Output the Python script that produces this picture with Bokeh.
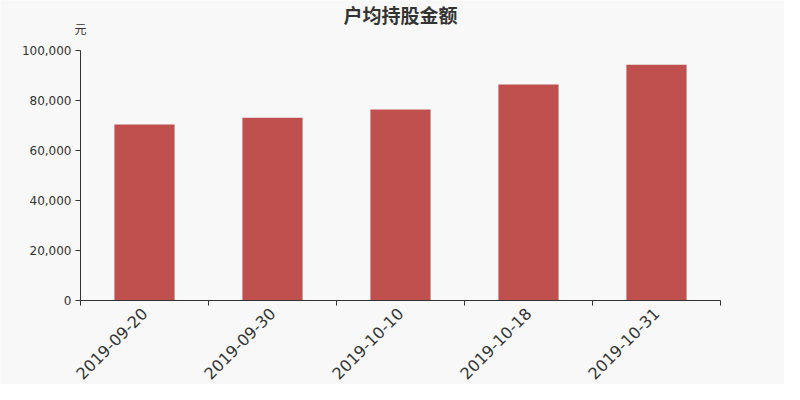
import math
from bokeh.plotting import figure
from bokeh.models import FixedTicker, NumeralTickFormatter, Label, ColumnDataSource, Range1d
from bokeh.embed import file_html
from bokeh.resources import INLINE

categories = ["2019-09-20", "2019-09-30", "2019-10-10", "2019-10-18", "2019-10-31"]
amounts = [70400, 73100, 76400, 86400, 94300]
y_ticks = [0, 20000, 40000, 60000, 80000, 100000]
title_text = "户均持股金额"
unit_text = "元"

n = len(categories)
centers = [i + 0.5 for i in range(n)]
src = ColumnDataSource(dict(x=centers, top=amounts))

# The frame fills the whole canvas; the axes are pinned at the data origin.
W, H = 784, 384
left_px, right_px, top_px, bottom_px = 80, 720, 50, 300
x_per_px = n / (right_px - left_px)
y_per_px = (y_ticks[-1] - y_ticks[0]) / (bottom_px - top_px)
x_range = Range1d(-left_px * x_per_px, (W - left_px) * x_per_px)
y_range = Range1d(y_ticks[0] - (H - bottom_px) * y_per_px, y_ticks[-1] + top_px * y_per_px)

p = figure(width=W, height=H, output_backend="svg", toolbar_location=None,
           x_range=x_range, y_range=y_range,
           min_border_left=0, min_border_right=0, min_border_top=0, min_border_bottom=0)
p.background_fill_color = "#f8f8f8"
p.border_fill_color = "#f8f8f8"
p.outline_line_color = None
p.grid.visible = False

p.vbar(x="x", top="top", width=0.47, bottom=0, source=src, fill_color="#c0504d", line_color=None)

# x axis
xa = p.xaxis[0]
xa.fixed_location = y_ticks[0]
xa.bounds = (0, n)
xa.ticker = FixedTicker(ticks=centers, minor_ticks=list(range(n + 1)))
xa.major_label_overrides = {c: lab for c, lab in zip(centers, categories)}
xa.major_label_orientation = math.pi / 4
xa.major_tick_out = 0
xa.major_tick_in = 0
xa.minor_tick_out = 5
xa.minor_tick_in = 0
xa.minor_tick_line_color = "#333333"
xa.axis_line_color = "#333333"
xa.major_label_text_font = "DejaVu Sans"
xa.major_label_text_font_size = "16px"
xa.major_label_text_color = "#333333"
xa.major_label_standoff = 5

# y axis
ya = p.yaxis[0]
ya.fixed_location = 0
ya.bounds = (y_ticks[0], y_ticks[-1])
ya.ticker = FixedTicker(ticks=y_ticks, minor_ticks=[])
ya.formatter = NumeralTickFormatter(format="0,0")
ya.major_tick_out = 5
ya.major_tick_in = 0
ya.minor_tick_out = 0
ya.minor_tick_in = 0
ya.axis_line_color = "#333333"
ya.major_tick_line_color = "#333333"
ya.major_label_text_font = "DejaVu Sans"
ya.major_label_text_font_size = "12px"
ya.major_label_text_color = "#333333"
ya.major_label_standoff = 4

p.add_layout(Label(x=n / 2, y=y_ticks[-1], y_offset=36, text=title_text,
                   text_align="center", text_baseline="middle",
                   text_font="Noto Sans CJK SC", text_font_size="19px",
                   text_font_style="bold", text_color="#333333"))
p.add_layout(Label(x=0, y=y_ticks[-1], y_offset=22, text=unit_text,
                   text_align="center", text_baseline="middle",
                   text_font="Noto Sans CJK SC", text_font_size="12px",
                   text_color="#333333"))

open("out.html", "w").write(file_html(p, INLINE))
